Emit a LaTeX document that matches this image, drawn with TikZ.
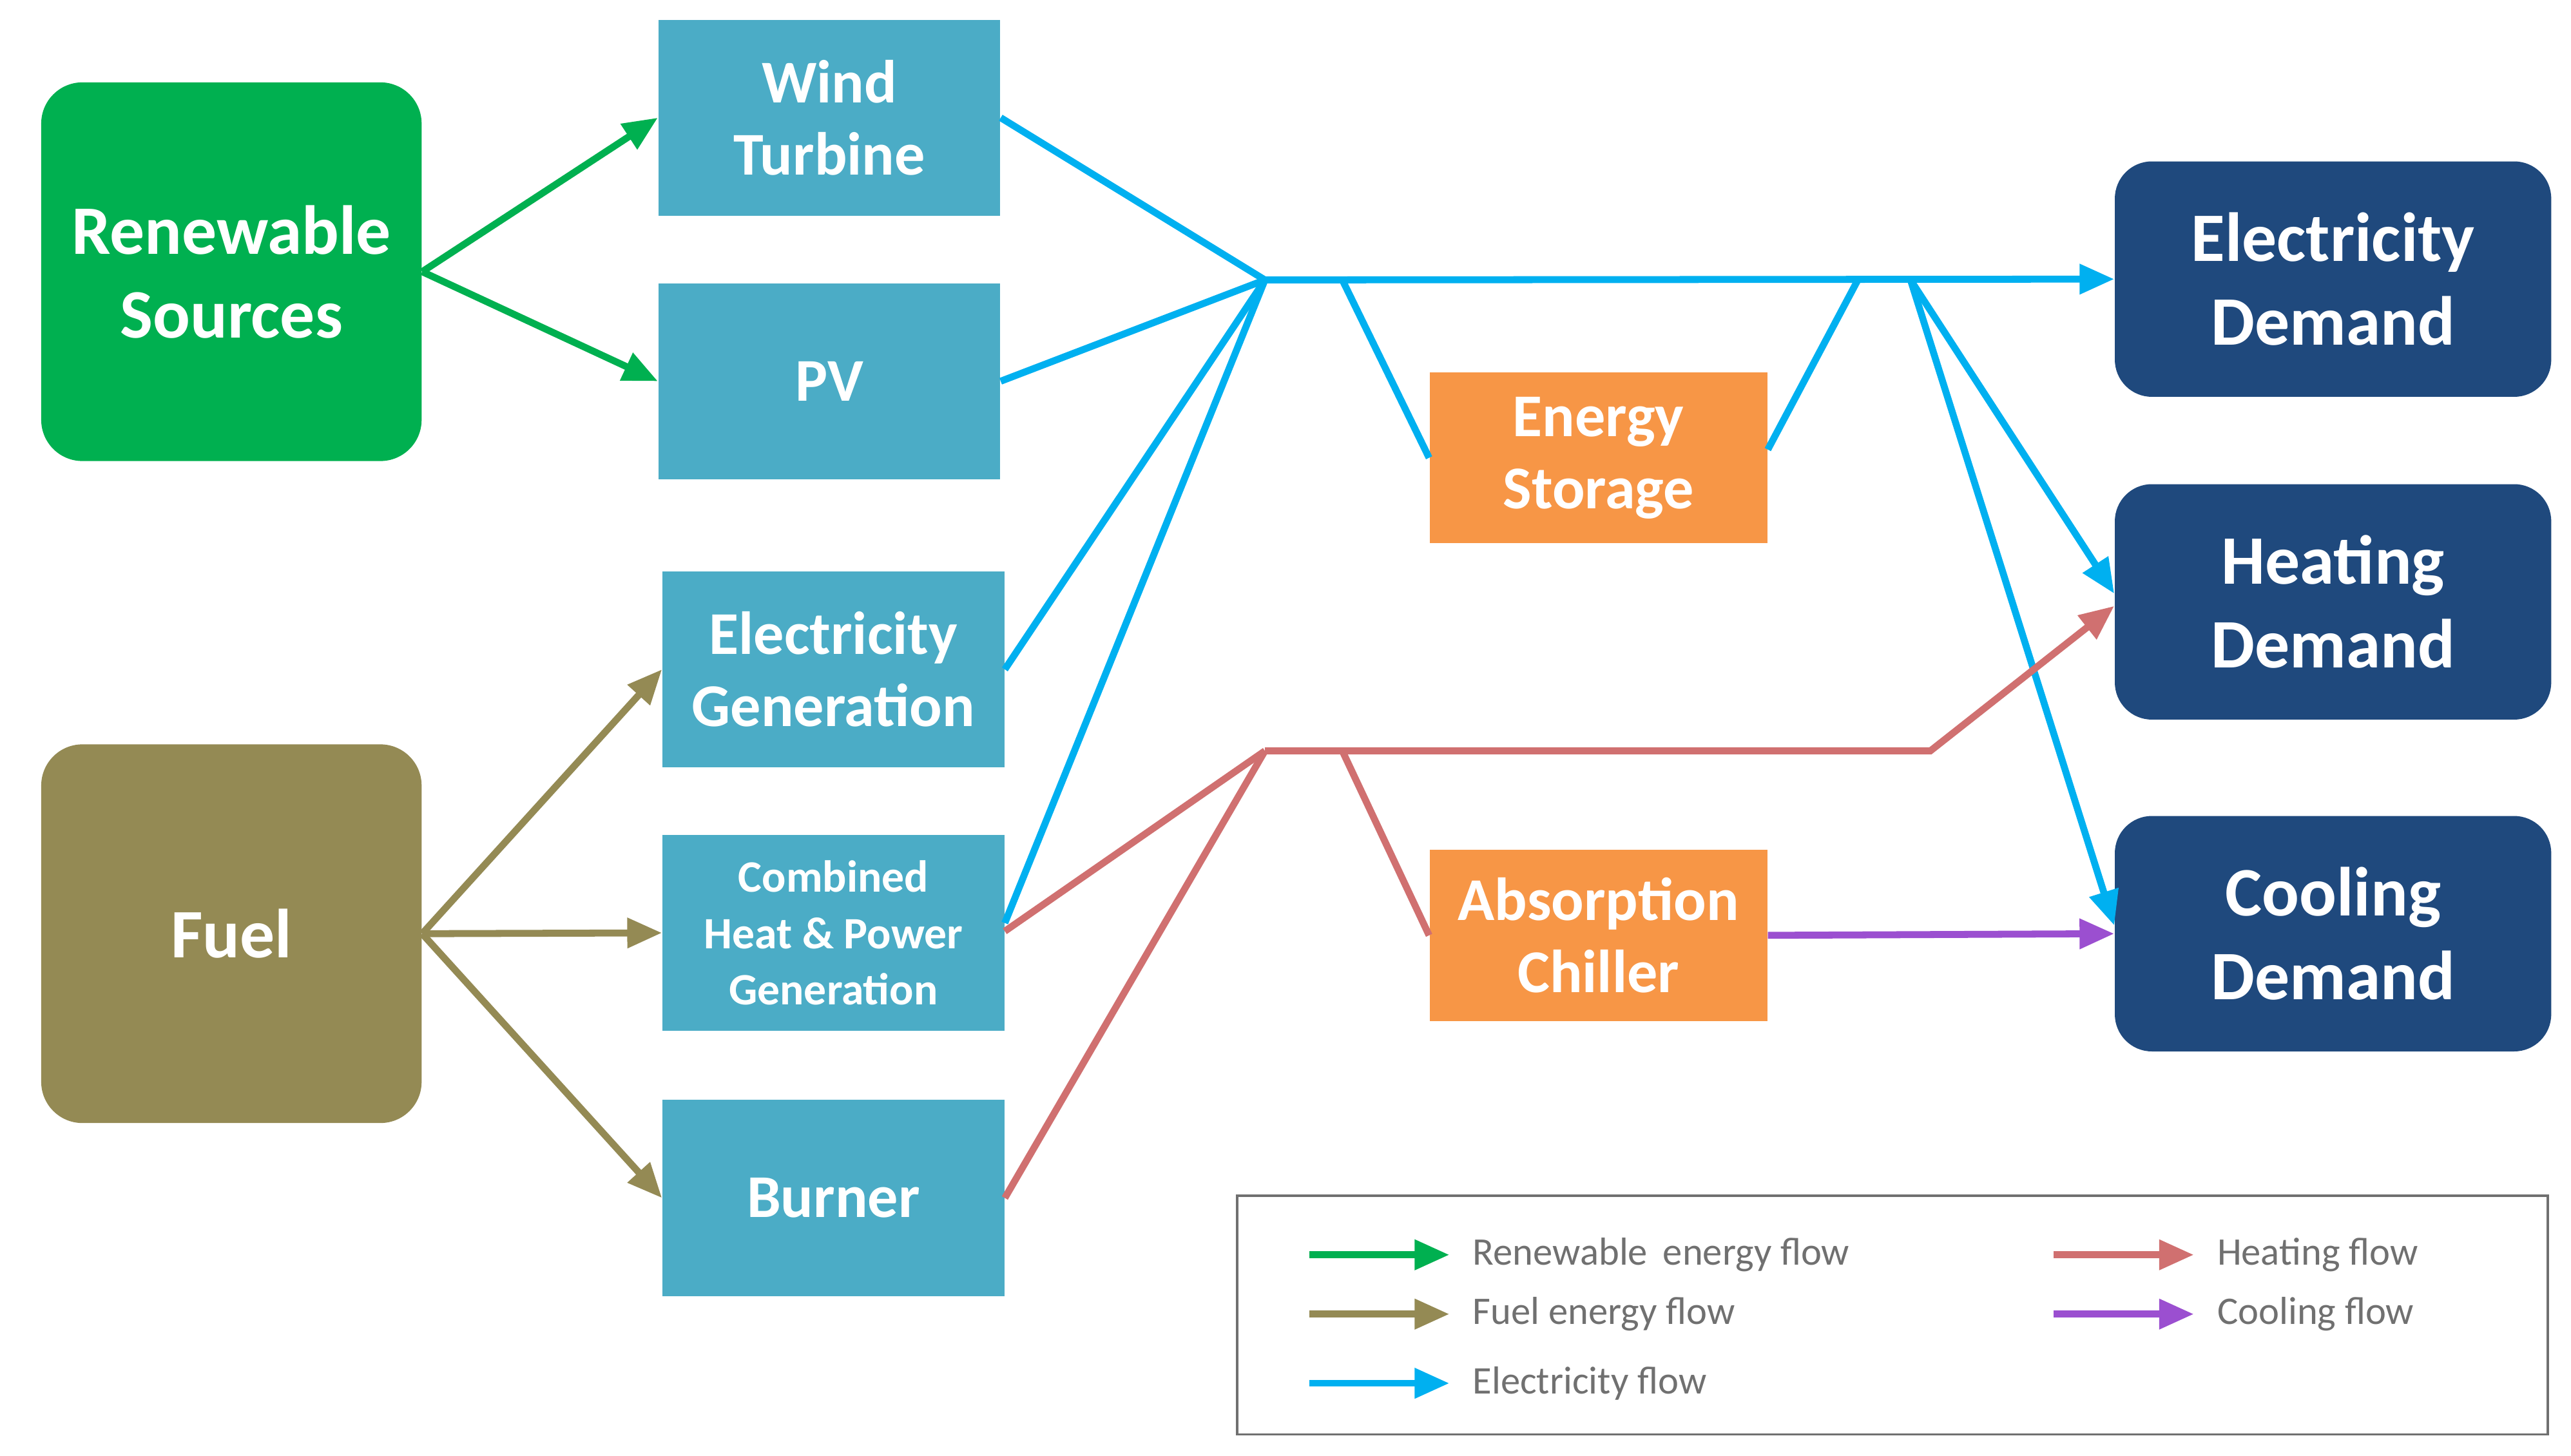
\documentclass[tikz,border=0pt]{standalone}
\usepackage{fontspec}
\setmainfont{Carlito}
\usetikzlibrary{arrows.meta}
\definecolor{cgreen}{HTML}{00B050}
\definecolor{colive}{HTML}{948A54}
\definecolor{cteal}{HTML}{4BACC6}
\definecolor{corange}{HTML}{F79646}
\definecolor{cnavy}{HTML}{1F497D}
\definecolor{cblue}{HTML}{00B0F0}
\definecolor{cred}{HTML}{D07070}
\definecolor{cpurple}{HTML}{9B4FD0}
\definecolor{cgray}{HTML}{707070}
\tikzset{
 box/.style={draw=none,text=white,font=\bfseries\fontsize{21}{25}\selectfont,align=center,inner sep=0pt},
 src/.style={box,rounded corners=0.5cm,minimum width=4.62cm,minimum height=4.6cm,font=\bfseries\fontsize{24}{29}\selectfont},
 tech/.style={box,fill=cteal,minimum width=4.15cm,minimum height=2.38cm},
 stor/.style={box,fill=corange,minimum width=4.1cm,minimum height=2.08cm},
 dem/.style={box,fill=cnavy,rounded corners=0.45cm,minimum width=5.3cm,minimum height=2.86cm,font=\bfseries\fontsize{24}{29}\selectfont},
 flow/.style={line width=2.4pt},
 arr/.style={flow,-{Triangle[length=12pt,width=10pt]}},
 leg/.style={text=cgray,font=\fontsize{13.5}{16}\selectfont,anchor=west}
}
\begin{document}
\begin{tikzpicture}[x=0.02cm,y=-0.02cm]
\useasboundingbox (0,0) rectangle (1561,884);
\node[src,fill=cgreen] (RS) at (140.5,165) {Renewable\\Sources};
\node[src,fill=colive] (FU) at (140.5,567) {Fuel};
\node[tech] (WT) at (503.5,71.5) {Wind\\Turbine};
\node[tech] (PV) at (503.5,231.5) {PV};
\node[tech] (EG) at (506,406.5) {Electricity\\Generation};
\node[tech,font=\bfseries\fontsize{15.5}{19.5}\selectfont] (CHP) at (506,566.5) {Combined\\Heat \& Power\\Generation};
\node[tech] (BU) at (506,727.5) {Burner};
\node[stor] (ES) at (970.5,278) {Energy\\Storage};
\node[stor] (AC) at (970.5,568) {Absorption\\Chiller};
\node[dem] (ED) at (1416.5,169.5) {Electricity\\Demand};
\node[dem] (HD) at (1416.5,365.5) {Heating\\Demand};
\node[dem] (CD) at (1416.5,567) {Cooling\\Demand};
% green
\draw[arr,cgreen] (RS.east) -- (WT.west);
\draw[arr,cgreen] (RS.east) -- (PV.west);
% olive
\draw[arr,colive] (FU.east) -- (EG.west);
\draw[arr,colive] (FU.east) -- (CHP.west);
\draw[arr,colive] (FU.east) -- (BU.west);
% blue
\coordinate (eh) at (768,170);
\coordinate (t1) at (815,170);
\coordinate (t2) at (1128,170);
\coordinate (t3) at (1160,170);
\draw[flow,cblue,line join=round] (WT.east) -- (eh);
\draw[flow,cblue] (PV.east) -- (eh);
\draw[flow,cblue] (EG.east) -- (eh);
\draw[flow,cblue] ([yshift=0.12cm]CHP.east) -- (eh);
\draw[arr,cblue] (eh) -- (ED.west);
\draw[flow,cblue] (t1) -- (ES.west);
\draw[flow,cblue] ([yshift=0.1cm]ES.east) -- (t2);
\draw[arr,cblue] (t3) -- ([yshift=0.1cm]HD.west);
\draw[arr,cblue] (t3) -- ([yshift=0.1cm]CD.west);
% red
\coordinate (hh) at (768,456);
\coordinate (h1) at (815,456);
\coordinate (h2) at (1172,456);
\draw[flow,cred] ([yshift=0.02cm]CHP.east) -- (hh);
\draw[flow,cred] (BU.east) -- (hh);
\draw[arr,cred] (hh) -- (h2) -- ([yshift=-0.05cm]HD.west);
\draw[flow,cred] (h1) -- (AC.west);
% purple
\draw[arr,cpurple] (AC.east) -- (CD.west);
% legend
\node[draw=cgray,line width=0.8pt,minimum width=15.92cm,minimum height=2.9cm,inner sep=0pt] (LG) at (1149,798.5) {};
\coordinate (la1) at (795,762); \coordinate (lb1) at (880,762);
\coordinate (la2) at (795,798); \coordinate (lb2) at (880,798);
\coordinate (la3) at (795,840); \coordinate (lb3) at (880,840);
\coordinate (la4) at (1247,762); \coordinate (lb4) at (1332,762);
\coordinate (la5) at (1247,798); \coordinate (lb5) at (1332,798);
\draw[arr,cgreen] (la1) -- (lb1);
\draw[arr,colive] (la2) -- (lb2);
\draw[arr,cblue] (la3) -- (lb3);
\draw[arr,cred] (la4) -- (lb4);
\draw[arr,cpurple] (la5) -- (lb5);
\node[leg] (t1l) at (888,762) {Renewable\, energy flow};
\node[leg] (t2l) at (888,798) {Fuel energy flow};
\node[leg] (t3l) at (888,840) {Electricity flow};
\node[leg] (t4l) at (1340,762) {Heating flow};
\node[leg] (t5l) at (1340,798) {Cooling flow};
\end{tikzpicture}
\end{document}
